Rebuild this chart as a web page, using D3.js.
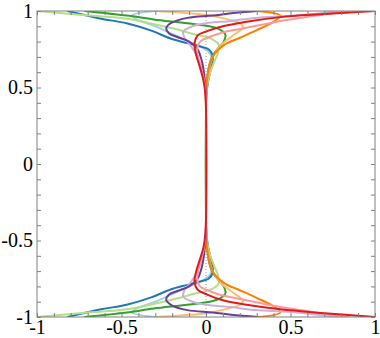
<!DOCTYPE html>
<html>
<head>
<meta charset="utf-8">
<script src="https://cdn.jsdelivr.net/npm/d3@7"></script>
<style>
  body { margin: 0; background: #fff; }
  #chart .label text { font-family: "Liberation Serif", "DejaVu Serif", serif; font-size: 20px; fill: #000; }
</style>
</head>
<body>
<svg id="chart" width="380" height="338"></svg>
<script>
const lightBlue = [[-0.30,1],[-0.44,0.97],[-0.40,0.94],[-0.30,0.90],[-0.20,0.85],[-0.10,0.80],[-0.02,0.76],[0.025,0.72],[0.035,0.67],[0.025,0.61],[0.01,0.53],[0.002,0.44],[0,0.36],
                   [0,-0.36],[0.002,-0.44],[0.01,-0.53],[0.025,-0.61],[0.035,-0.67],[0.025,-0.72],[-0.02,-0.76],[-0.10,-0.80],[-0.20,-0.85],[-0.30,-0.90],[-0.40,-0.94],[-0.44,-0.97],[-0.30,-1]];
const blue = [[-0.82,1],[-0.62,0.95],[-0.47,0.92],[-0.32,0.87],[-0.21,0.82],[-0.11,0.79],[-0.04,0.77],[0.015,0.75],[0.04,0.71],[0.038,0.66],[0.022,0.59],[0.008,0.51],[0.001,0.42],[0,0.34],
              [0,-0.34],[0.001,-0.42],[0.008,-0.51],[0.022,-0.59],[0.038,-0.66],[0.04,-0.71],[0.015,-0.75],[-0.04,-0.77],[-0.11,-0.79],[-0.21,-0.82],[-0.32,-0.87],[-0.47,-0.92],[-0.62,-0.95],[-0.82,-1]];
const lightGreen = [[-1,1],[-0.75,0.975],[-0.47,0.95],[-0.21,0.89],[-0.06,0.845],[0.03,0.82],[0.075,0.78],[0.072,0.73],[0.05,0.67],[0.025,0.60],[0.008,0.52],[0.001,0.43],[0,0.35],
                    [0,-0.35],[0.001,-0.43],[0.008,-0.52],[0.025,-0.60],[0.05,-0.67],[0.072,-0.73],[0.075,-0.78],[0.03,-0.82],[-0.06,-0.845],[-0.21,-0.89],[-0.47,-0.95],[-0.75,-0.975],[-1,-1]];
const green = [[-0.72,1],[-0.47,0.97],[-0.31,0.945],[-0.11,0.92],[0.02,0.90],[0.08,0.88],[0.115,0.845],[0.105,0.80],[0.075,0.76],[0.04,0.71],[0.018,0.64],[0.006,0.55],[0.001,0.46],[0,0.38],
               [0,-0.38],[0.001,-0.46],[0.006,-0.55],[0.018,-0.64],[0.04,-0.71],[0.075,-0.76],[0.105,-0.80],[0.115,-0.845],[0.08,-0.88],[0.02,-0.90],[-0.11,-0.92],[-0.31,-0.945],[-0.47,-0.97],[-0.72,-1]];
const pink = [[0.85,1],[0.62,0.965],[0.44,0.935],[0.24,0.89],[0.10,0.86],[0.02,0.83],[-0.035,0.80],[-0.052,0.755],[-0.045,0.69],[-0.025,0.61],[-0.009,0.53],[-0.002,0.44],[0,0.36],
              [0,-0.36],[-0.002,-0.44],[-0.009,-0.53],[-0.025,-0.61],[-0.045,-0.69],[-0.052,-0.755],[-0.035,-0.80],[0.02,-0.83],[0.10,-0.86],[0.24,-0.89],[0.44,-0.935],[0.62,-0.965],[0.85,-1]];
const red = [[1,1],[0.70,0.98],[0.44,0.96],[0.24,0.93],[0.10,0.90],[0.01,0.87],[-0.05,0.84],[-0.068,0.79],[-0.06,0.72],[-0.038,0.64],[-0.016,0.55],[-0.004,0.46],[0,0.36],
             [0,-0.36],[-0.004,-0.46],[-0.016,-0.55],[-0.038,-0.63],[-0.06,-0.71],[-0.068,-0.77],[-0.05,-0.82],[0.01,-0.855],[0.10,-0.89],[0.24,-0.92],[0.44,-0.95],[0.70,-0.975],[1,-1]];
const lightOrange = [[-0.30,1],[-0.15,0.99],[0.0,0.975],[0.11,0.95],[0.20,0.92],[0.22,0.895],[0.16,0.84],[0.09,0.78],[0.045,0.71],[0.02,0.63],[0.006,0.54],[0.001,0.45],[0,0.37],
                     [0,-0.37],[0.001,-0.45],[0.006,-0.54],[0.02,-0.63],[0.045,-0.71],[0.09,-0.78],[0.16,-0.84],[0.22,-0.895],[0.20,-0.92],[0.11,-0.95],[0.0,-0.975],[-0.15,-0.99],[-0.30,-1]];
const orange = [[0.30,1],[0.44,0.97],[0.40,0.93],[0.30,0.875],[0.20,0.825],[0.11,0.78],[0.05,0.72],[0.022,0.65],[0.007,0.56],[0.001,0.47],[0,0.39],
                [0,-0.39],[0.001,-0.47],[0.007,-0.56],[0.022,-0.65],[0.05,-0.72],[0.11,-0.78],[0.20,-0.825],[0.30,-0.875],[0.40,-0.93],[0.44,-0.97],[0.30,-1]];
const lightPurple = [[0.79,1],[0.53,0.97],[0.29,0.955],[0.15,0.935],[0.0,0.92],[-0.08,0.90],[-0.135,0.865],[-0.125,0.82],[-0.095,0.78],[-0.06,0.72],[-0.03,0.64],[-0.01,0.55],[-0.002,0.46],[0,0.37],
                     [0,-0.37],[-0.002,-0.46],[-0.01,-0.55],[-0.03,-0.64],[-0.06,-0.72],[-0.095,-0.78],[-0.125,-0.82],[-0.135,-0.865],[-0.08,-0.90],[0.0,-0.92],[0.15,-0.935],[0.29,-0.955],[0.53,-0.97],[0.79,-1]];
const purple = [[0.30,1],[0.15,0.985],[0.04,0.97],[-0.11,0.955],[-0.20,0.925],[-0.235,0.89],[-0.22,0.855],[-0.17,0.83],[-0.10,0.80],[-0.05,0.75],[-0.022,0.66],[-0.008,0.56],[-0.001,0.46],[0,0.38],
                [0,-0.38],[-0.001,-0.46],[-0.008,-0.56],[-0.022,-0.66],[-0.05,-0.75],[-0.10,-0.80],[-0.17,-0.83],[-0.22,-0.855],[-0.235,-0.89],[-0.20,-0.925],[-0.11,-0.955],[0.04,-0.97],[0.15,-0.985],[0.31,-1]];

const seriesList = [lightBlue, blue, lightGreen, green, lightOrange, orange, lightPurple, purple, pink, red];
const seriesColors = ["#a6cee3", "#1f78b4", "#b2df8a", "#33a02c", "#fdbf6f", "#ff7f00", "#cab2d6", "#6a3d9a", "#fb9a99", "#e31a1c"];

const minorTicks = d3.range(-10, 11).map(i => i / 10);
const labelTicks = [-1, -0.5, 0, 0.5, 1];

const margin = { left: 37, right: 5, top: 11, bottom: 21 };
const width = 380, height = 338;

const svg = d3.select("#chart");
const x = d3.scaleLinear().domain([-1, 1]).range([margin.left, width - margin.right]);
const y = d3.scaleLinear().domain([-1, 1]).range([height - margin.bottom, margin.top]);

svg.append("defs").append("clipPath").attr("id", "plot-clip")
    .append("rect")
    .attr("x", x(-1)).attr("y", y(1))
    .attr("width", x(1) - x(-1)).attr("height", y(-1) - y(1));

// dotted guide at x = 0
svg.append("line")
    .attr("x1", x(0)).attr("x2", x(0))
    .attr("y1", y(1)).attr("y2", y(-1))
    .attr("stroke", "#999").attr("stroke-width", 1)
    .attr("stroke-dasharray", "1,2");

// curves
const line = d3.line()
    .x(d => x(d[0]))
    .y(d => y(d[1]))
    .curve(d3.curveCatmullRom.alpha(0.5));

svg.append("g").attr("clip-path", "url(#plot-clip)")
    .selectAll("path")
    .data(seriesList)
    .join("path")
    .attr("d", d => line(d))
    .attr("fill", "none")
    .attr("stroke", (d, i) => seriesColors[i])
    .attr("stroke-width", 2);

// inward ticks on all four sides
function tick_axis(axis, transform) {
    const g = svg.append("g").attr("transform", transform)
        .call(axis.tickValues(minorTicks).tickSize(-4).tickFormat(""));
    g.select(".domain").remove();
    g.selectAll(".tick line").attr("stroke", "#808080");
}
tick_axis(d3.axisBottom(x), `translate(0,${y(-1)})`);
tick_axis(d3.axisTop(x), `translate(0,${y(1)})`);
tick_axis(d3.axisLeft(y), `translate(${x(-1)},0)`);
tick_axis(d3.axisRight(y), `translate(${x(1)},0)`);

// frame
svg.append("rect")
    .attr("x", x(-1)).attr("y", y(1))
    .attr("width", x(1) - x(-1)).attr("height", y(-1) - y(1))
    .attr("fill", "none").attr("stroke", "#808080").attr("stroke-width", 1);

// tick labels, plain hyphen minus like the original
const labelFormat = d => String(d);

const xLabels = svg.append("g").attr("class", "label").attr("transform", `translate(0,${y(-1)})`)
    .call(d3.axisBottom(x).tickValues(labelTicks).tickSize(0).tickPadding(3).tickFormat(labelFormat));
xLabels.select(".domain").remove();

const yLabels = svg.append("g").attr("class", "label").attr("transform", `translate(${x(-1)},0)`)
    .call(d3.axisLeft(y).tickValues(labelTicks).tickSize(0).tickPadding(4).tickFormat(labelFormat));
yLabels.select(".domain").remove();
</script>
</body>
</html>
